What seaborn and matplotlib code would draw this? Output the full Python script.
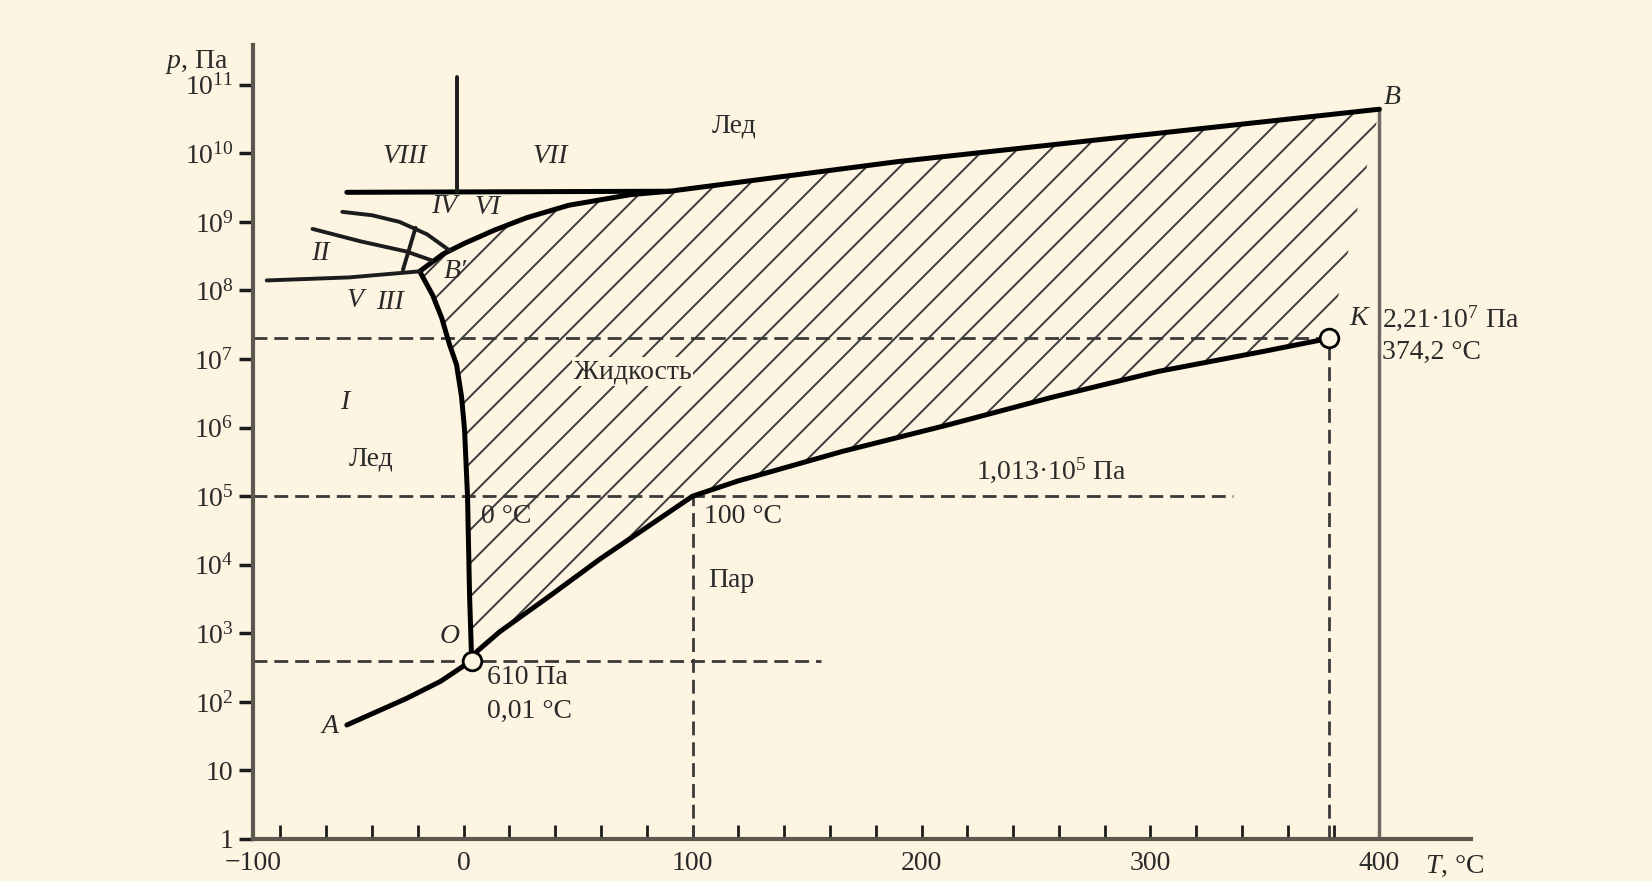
import matplotlib
matplotlib.use("Agg")
import matplotlib.pyplot as plt
import seaborn as sns
from matplotlib.ticker import FixedLocator, NullLocator

BG = "#fdf5e2"
INK = "#1c1c1c"

sns.set_style("ticks", {"axes.facecolor": BG, "figure.facecolor": BG})
plt.rcParams["font.family"] = ["Liberation Serif", "DejaVu Serif"]
plt.rcParams["mathtext.fontset"] = "custom"
plt.rcParams["mathtext.rm"] = "Liberation Serif"
plt.rcParams["mathtext.it"] = "Liberation Serif:italic"
plt.rcParams["hatch.linewidth"] = 1.4

# --- phase boundaries (T in °C, p in Pa) ---
# sublimation curve A -> O
subl_t = [-51, -25, -10, 3.5]
subl_p = [46, 112, 200, 400]
# melting curve O -> B'
melt_t = [3.5, 2.6, 1.7, 0.4, -0.9, -3.1, -6.1, -9.6, -13.5, -19.2]
melt_p = [4.0e2, 3.5e3, 1.0e5, 9.3e5, 2.8e6, 8.3e6, 1.6e7, 4.0e7, 8.5e7, 1.9e8]
# boiling curve O -> K
boil_t = [3.5, 5.7, 15.7, 37.6, 59.4, 100, 119.7, 165.5, 211.8, 257.6, 303.5, 349.8, 378]
boil_p = [4.0e2, 5.4e2, 1.05e3, 3.5e3, 1.2e4, 1.0e5, 1.66e5, 4.5e5, 1.1e6, 2.8e6, 6.6e6, 1.3e7, 2.0e7]
# liquid / high pressure ice boundary B' -> upper line
liq_t = [-19.2, -9, 0, 13.5, 27.5, 46, 73, 90]
liq_p = [1.9e8, 3.4e8, 4.8e8, 7.6e8, 1.15e9, 1.75e9, 2.5e9, 2.8e9]
# upper line, ends in B
top_t = [-51, 90, 190, 400]
top_p = [2.7e9, 2.8e9, 7.6e9, 4.4e10]
# ice VII / VIII divider
vii_t = [-3, -3]
vii_p = [2.7e9, 1.3e11]
# small ice boundaries (II, III, V, VI)
ice_a_t = [-53, -40, -28, -16, -6]
ice_a_p = [1.4e9, 1.25e9, 1.0e9, 6.6e8, 3.8e8]
ice_b_t = [-66, -45, -25, -14]
ice_b_p = [7.9e8, 5.2e8, 3.7e8, 2.75e8]
ice_c_t = [-86, -50, -19.2]
ice_c_p = [1.4e8, 1.55e8, 1.9e8]
ice_d_t = [-21, -26.5]
ice_d_p = [8.2e8, 2.0e8]

# special points
triple_t, triple_p = 3.5, 400
crit_t, crit_p = 378, 2.0e7
boil_pt_t, boil_pt_p = 100, 1.013e5
b_t, b_p = 400, 4.4e10

y_ticks = [1, 10, 1e2, 1e3, 1e4, 1e5, 1e6, 1e7, 1e8, 1e9, 1e10, 1e11]
y_labels = ["1", "10"] + [f"$10^{{{k}}}$" for k in range(2, 12)]
x_ticks = [-92, 0, 100, 200, 300, 400]
x_labels = ["\u2212100", "0", "100", "200", "300", "400"]
x_minor = [-80, -60, -40, -20, 20, 40, 60, 80, 120, 140, 160, 180, 220, 240,
           260, 280, 320, 340, 360, 380]

fig = plt.figure(figsize=(16.52, 8.81), dpi=100)
ax = fig.add_axes([253 / 1652, 1 - 839 / 881, (1471 - 253) / 1652, (839 - 45) / 881])
ax.set_yscale("log")
ax.set_xlim(-92, 440)
ax.set_ylim(1, 3.8e11)

# hatched liquid region
poly_t = melt_t + liq_t[1:] + top_t[2:] + boil_t[::-1]
poly_p = melt_p + liq_p[1:] + top_p[2:] + boil_p[::-1]
ax.fill(poly_t, poly_p, facecolor="none", edgecolor="#3c3c3c", hatch="/",
        linewidth=0, zorder=1)

# dashed guide lines
dash = dict(color="#3a3a3a", linewidth=2, linestyle=(0, (5, 2.5)), zorder=2)
ax.plot([-92, crit_t], [crit_p, crit_p], **dash)
ax.plot([-92, 336], [boil_pt_p, boil_pt_p], **dash)
ax.plot([-92, 156], [triple_p, triple_p], **dash)
ax.plot([boil_pt_t, boil_pt_t], [1, boil_pt_p], **dash)
ax.plot([crit_t, crit_t], [1, crit_p], **dash)

# vertical line through B
ax.plot([b_t, b_t], [1, b_p], color="#6e6a62", linewidth=2.5, zorder=2)

thick = [(subl_t, subl_p), (melt_t, melt_p), (boil_t, boil_p),
         (liq_t, liq_p), (top_t, top_p)]
for tt, pp in thick:
    sns.lineplot(x=tt, y=pp, sort=False, estimator=None, color="black",
                 linewidth=3.6, ax=ax, zorder=3)

thin = [(vii_t, vii_p), (ice_a_t, ice_a_p), (ice_b_t, ice_b_p),
        (ice_c_t, ice_c_p), (ice_d_t, ice_d_p)]
for tt, pp in thin:
    sns.lineplot(x=tt, y=pp, sort=False, estimator=None, color=INK,
                 linewidth=2.8, ax=ax, zorder=3)

sns.scatterplot(x=[triple_t, crit_t], y=[triple_p, crit_p], s=180, marker="o",
                facecolor=BG, edgecolor="black", linewidth=2, ax=ax, zorder=5)

# axes styling
for side in ["top", "right"]:
    ax.spines[side].set_visible(False)
for side in ["left", "bottom"]:
    ax.spines[side].set_color("#5c5850")
    ax.spines[side].set_linewidth(3)

ax.set_yticks(y_ticks, labels=y_labels)
ax.yaxis.set_minor_locator(NullLocator())
ax.set_xticks(x_ticks, labels=x_labels)
ax.xaxis.set_minor_locator(FixedLocator(x_minor))
ax.tick_params(axis="y", direction="out", length=10, width=2.5, color=INK,
               labelsize=20, labelcolor="#2a2a2a", pad=4)
ax.tick_params(axis="x", which="both", direction="in", length=10, width=2,
               color=INK, labelsize=20, labelcolor="#2a2a2a", pad=9)

fig.text(197 / 1652, 1 - 62 / 881, "$p$, Па", fontsize=20, color="#2a2a2a",
         ha="center", va="center")
fig.text(1425 / 1652, 1 - 866 / 881, "$T$, °C", fontsize=20, color="#2a2a2a",
         ha="left", va="center")

# region and point labels
txt = dict(fontsize=20, color="#2a2a2a", va="center", zorder=6)
labels = [
    (-25.8, 9.1e9, "VIII", "italic", "center"),
    (38, 9.1e9, "VII", "italic", "center"),
    (118, 2.5e10, "Лед", "normal", "center"),
    (-8.3, 1.66e9, "IV", "italic", "center"),
    (10.5, 1.6e9, "VI", "italic", "center"),
    (-62.4, 3.5e8, "II", "italic", "center"),
    (-47.6, 7.2e7, "V", "italic", "center"),
    (-32, 6.6e7, "III", "italic", "center"),
    (-3.5, 1.9e8, "B\u2032", "italic", "center"),
    (-52, 2.3e6, "I", "italic", "center"),
    (-40.6, 3.5e5, "Лед", "normal", "center"),
    (18.8, 5.0e4, "0 °C", "normal", "center"),
    (105, 5.0e4, "100 °C", "normal", "left"),
    (107, 5.8e3, "Пар", "normal", "left"),
    (256.8, 2.4e5, "1,013·10$^5$ Па", "normal", "center"),
    (391, 3.9e7, "K", "italic", "center"),
    (401.3, 3.9e7, "2,21·10$^7$ Па", "normal", "left"),
    (401.3, 1.26e7, "374,2 °C", "normal", "left"),
    (405.7, 6.6e10, "B", "italic", "center"),
    (-6, 890, "O", "italic", "center"),
    (-58.5, 43, "A", "italic", "center"),
    (10, 230, "610 Па", "normal", "left"),
    (10, 72, "0,01 °C", "normal", "left"),
]
for x, y, s, st, ha in labels:
    ax.text(x, y, s, style=st, ha=ha, **txt)

ax.text(73.8, 6.5e6, "Жидкость", ha="center",
        bbox=dict(facecolor=BG, edgecolor="none", pad=1.5), **txt)

fig.savefig("out.png", dpi=100, facecolor=BG)
